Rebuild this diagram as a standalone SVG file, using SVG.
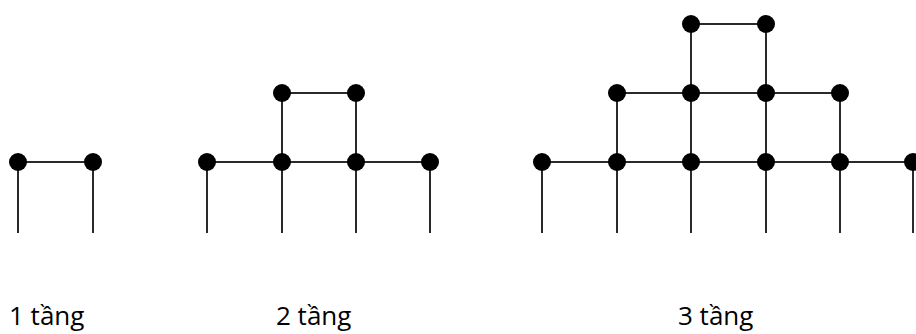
<svg xmlns="http://www.w3.org/2000/svg" width="916" height="334" viewBox="0 0 916 334">
<style>
.e{stroke:#2a2a2a;stroke-width:2;fill:none}
.n{fill:#000}
.t{font-family:"Open Sans","Noto Sans",sans-serif;font-size:26px;fill:#000}
</style>
<rect width="916" height="334" fill="#fff"/>
<g id="connectors">
<!-- diagram 1 -->
<line class="e" x1="18" y1="162" x2="93" y2="162"/>
<line class="e" x1="18" y1="162" x2="18" y2="233"/>
<line class="e" x1="93" y1="162" x2="93" y2="233"/>
<!-- diagram 2 -->
<line class="e" x1="207" y1="162" x2="430" y2="162"/>
<line class="e" x1="282" y1="93" x2="356" y2="93"/>
<line class="e" x1="207" y1="162" x2="207" y2="233"/>
<line class="e" x1="282" y1="93" x2="282" y2="233"/>
<line class="e" x1="356" y1="93" x2="356" y2="233"/>
<line class="e" x1="430" y1="162" x2="430" y2="233"/>
<!-- diagram 3 -->
<line class="e" x1="542" y1="162" x2="913" y2="162"/>
<line class="e" x1="617" y1="93" x2="840" y2="93"/>
<line class="e" x1="691" y1="24" x2="766" y2="24"/>
<line class="e" x1="542" y1="162" x2="542" y2="233"/>
<line class="e" x1="617" y1="93" x2="617" y2="233"/>
<line class="e" x1="691" y1="24" x2="691" y2="233"/>
<line class="e" x1="766" y1="24" x2="766" y2="233"/>
<line class="e" x1="840" y1="93" x2="840" y2="233"/>
<line class="e" x1="913" y1="162" x2="913" y2="233"/>
</g>
<g id="d1-n1"><circle class="n" cx="18" cy="162" r="9"/></g>
<g id="d1-n2"><circle class="n" cx="93" cy="162" r="9"/></g>
<g id="d2-n1"><circle class="n" cx="207" cy="162" r="9"/></g>
<g id="d2-n2"><circle class="n" cx="282" cy="162" r="9"/></g>
<g id="d2-n3"><circle class="n" cx="356" cy="162" r="9"/></g>
<g id="d2-n4"><circle class="n" cx="430" cy="162" r="9"/></g>
<g id="d2-n5"><circle class="n" cx="282" cy="93" r="9"/></g>
<g id="d2-n6"><circle class="n" cx="356" cy="93" r="9"/></g>
<g id="d3-n1"><circle class="n" cx="542" cy="162" r="9"/></g>
<g id="d3-n2"><circle class="n" cx="617" cy="162" r="9"/></g>
<g id="d3-n3"><circle class="n" cx="691" cy="162" r="9"/></g>
<g id="d3-n4"><circle class="n" cx="766" cy="162" r="9"/></g>
<g id="d3-n5"><circle class="n" cx="840" cy="162" r="9"/></g>
<g id="d3-n6"><circle class="n" cx="913" cy="162" r="9"/></g>
<g id="d3-n7"><circle class="n" cx="617" cy="93" r="9"/></g>
<g id="d3-n8"><circle class="n" cx="691" cy="93" r="9"/></g>
<g id="d3-n9"><circle class="n" cx="766" cy="93" r="9"/></g>
<g id="d3-n10"><circle class="n" cx="840" cy="93" r="9"/></g>
<g id="d3-n11"><circle class="n" cx="691" cy="24" r="9"/></g>
<g id="d3-n12"><circle class="n" cx="766" cy="24" r="9"/></g>
<g id="labels">
<text class="t" x="9" y="325">1 tầng</text>
<text class="t" x="276" y="325">2 tầng</text>
<text class="t" x="678" y="325">3 tầng</text>
</g>
</svg>
